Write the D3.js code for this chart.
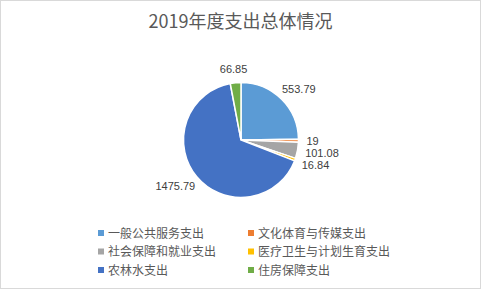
<!DOCTYPE html>
<html>
<head>
<meta charset="utf-8">
<script src="https://cdn.jsdelivr.net/npm/d3@7"></script>
<style>
  body{margin:0;background:#fff;}
</style>
</head>
<body>
<svg id="chart" width="481" height="289"></svg>
<script>
// 数据
var categorias=["一般公共服务支出","文化体育与传媒支出","社会保障和就业支出","医疗卫生与计划生育支出","农林水支出","住房保障支出"];
var valores=[553.79,19,101.08,16.84,1475.79,66.85];
var colores=["#5B9BD5","#ED7D31","#A5A5A5","#FFC000","#4472C4","#70AD47"];
var titulo="2019年度支出总体情况";

var ancho=481, alto=289;
var cx=241, cy=140, radio=57.5;
var fuente="'Noto Sans CJK SC','Liberation Sans',sans-serif";

var svg=d3.select("#chart");

svg.append("rect")
    .attr("x",0.5).attr("y",0.5)
    .attr("width",ancho-1).attr("height",alto-1)
    .attr("fill","#fff").attr("stroke","#d9d9d9");

svg.append("text")
    .attr("x",ancho/2).attr("y",28)
    .style("font-family",fuente)
    .style("font-size","18px")
    .style("fill","#595959")
    .style("text-anchor","middle")
    .text(titulo);

var pie=d3.pie().sort(null).value(function(d){return d;});
var arcos=pie(valores);
var arc=d3.arc().innerRadius(0).outerRadius(radio);

var g=svg.append("g").attr("transform","translate("+cx+","+cy+")");

g.selectAll(".slice").data(arcos).enter().append("path")
    .attr("class","slice")
    .attr("d",arc)
    .attr("fill",function(d,i){return colores[i];})
    .attr("stroke","#fff")
    .attr("stroke-width",1.5);

// etiquetas
var rEtiqueta=radio+8;
var etiquetas=[];
arcos.forEach(function(d,i){
    var ang=(d.startAngle+d.endAngle)/2;
    var t=g.append("text")
        .style("font-family","'Liberation Sans',sans-serif")
        .style("font-size","11px")
        .style("fill","#404040")
        .text(valores[i]);
    var w=t.node().getComputedTextLength();
    var h=12;
    var px=Math.sin(ang)*rEtiqueta, py=-Math.cos(ang)*rEtiqueta;
    etiquetas.push({t:t,x:px+(Math.sin(ang)-1)/2*w,y:py-Math.cos(ang)*h/2,lado:Math.sin(ang)>=0?1:-1});
});

// evitar solapes en el lado derecho
var derecha=etiquetas.filter(function(e){return e.lado>0;}).sort(function(a,b){return a.y-b.y;});
for(var i=1;i<derecha.length;i++){
    if(derecha[i].y-derecha[i-1].y<11.5) derecha[i].y=derecha[i-1].y+11.5;
}

etiquetas.forEach(function(e){
    e.t.attr("x",e.x).attr("y",e.y+4);
});

// leyenda
var leyenda=svg.append("g");
var colX=[98,248], filaY=233, paso=18.5;
categorias.forEach(function(c,i){
    var x=colX[i%2], y=filaY+Math.floor(i/2)*paso;
    leyenda.append("rect")
        .attr("x",x).attr("y",y-3)
        .attr("width",6).attr("height",6)
        .attr("fill",colores[i]);
    leyenda.append("text")
        .attr("x",x+10).attr("y",y+4.5)
        .style("font-family",fuente)
        .style("font-size","12px")
        .style("fill","#595959")
        .text(c);
});
</script>
</body>
</html>
